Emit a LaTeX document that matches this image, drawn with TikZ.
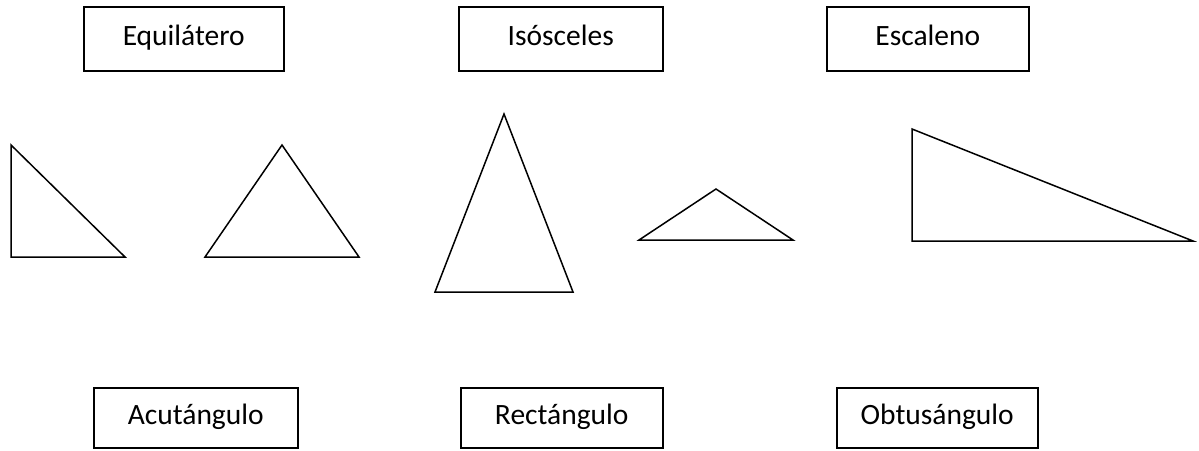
\documentclass[tikz,border=0pt]{standalone}
\usepackage{fontspec}
\setmainfont{Carlito}
\begin{document}
\begin{tikzpicture}[x=1pt,y=-1pt,
  label box/.style={draw=black,line width=1.5pt,minimum width=200pt,minimum height=64pt,inner sep=0pt,font=\fontsize{29.5}{35}\selectfont,anchor=north west,text height=20pt,text depth=6pt},
  tri/.style={draw=black,line width=1.5pt,line join=miter}]
\useasboundingbox (0,0) rectangle (1199,450);
% top boxes
\node[label box] (equi) at (83,6) {Equilátero};
\node[label box,minimum width=204pt] (isos) at (458,6) {Isósceles};
\node[label box,minimum width=202pt] (esca) at (826,6) {Escaleno};
% bottom boxes
\node[label box,minimum width=204pt,minimum height=60pt] (acut) at (93,387) {Acutángulo};
\node[label box,minimum width=202pt,minimum height=60pt] (rect) at (460,387) {Rectángulo};
\node[label box,minimum width=201pt,minimum height=60pt] (obtu) at (836,387) {Obtusángulo};
% triangles
\draw[tri] (11,145) -- (11,257) -- (125,257) -- cycle;
\draw[tri] (205,257) -- (282,145) -- (359,257) -- cycle;
\draw[tri] (435,292) -- (504,114) -- (573,292) -- cycle;
\draw[tri] (639,240) -- (716,189) -- (793,240) -- cycle;
\draw[tri] (912,129) -- (912,241) -- (1193,241) -- cycle;
\end{tikzpicture}
\end{document}
